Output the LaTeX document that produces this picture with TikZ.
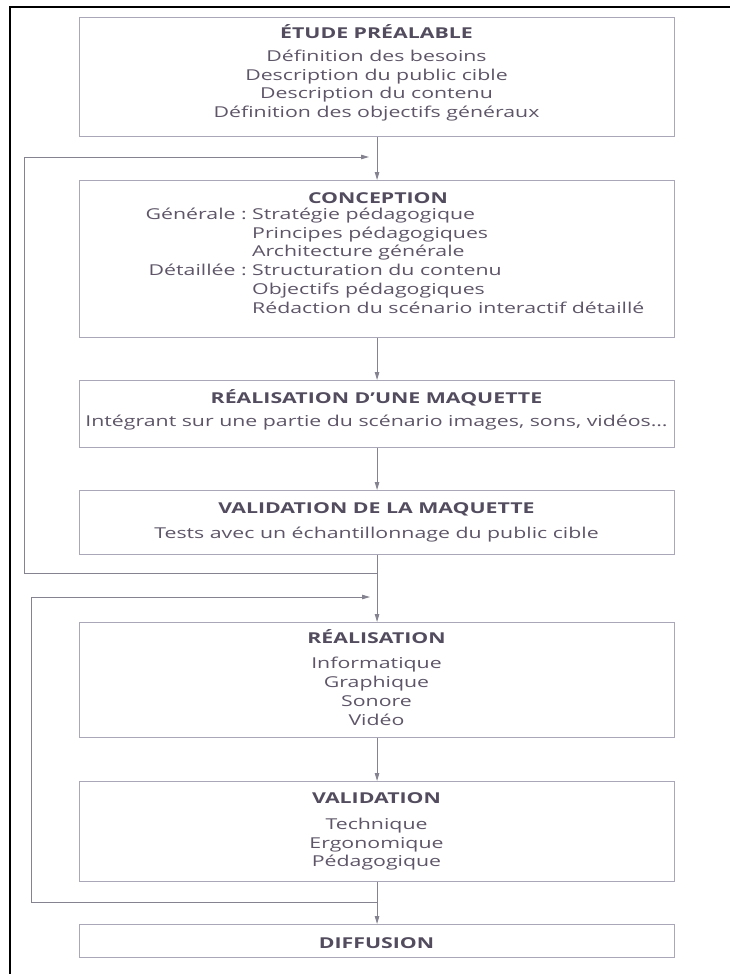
\documentclass[tikz,border=0pt]{standalone}
\usepackage{fontspec}
\setmainfont{Open Sans}[FakeStretch=1.42]
\usetikzlibrary{arrows.meta}
\definecolor{txt}{HTML}{5E5668}
\definecolor{ttl}{HTML}{524C5E}
\definecolor{boxc}{HTML}{A9A7B8}
\definecolor{linec}{HTML}{85838F}
\begin{document}
\begin{tikzpicture}[x=1pt,y=-1pt,
  stage/.style={draw=boxc, line width=1.1pt, minimum width=595pt, inner sep=0pt, anchor=north west},
  ttltext/.style={anchor=base, inner sep=0pt, text=ttl, font=\fontsize{15}{19}\selectfont\bfseries},
  bodytext/.style={anchor=base, inner sep=0pt, text=txt, font=\fontsize{15}{19}\selectfont},
  lefttext/.style={bodytext, anchor=base west},
  labeltext/.style={bodytext, anchor=base east},
  conn/.style={draw=linec, line width=0.9pt},
  arr/.style={conn, -{Triangle[length=8pt,width=4.5pt]}}
]
\useasboundingbox (0,0) rectangle (729,974);
% outer frame (top and left edges)
\draw[black, line width=2.6pt, line join=miter] (10,980) -- (10,7) -- (740,7);

% boxes
\node[stage, minimum height=119pt] (b1) at (79,17) {};
\node[stage, minimum height=157pt] (b2) at (79,180) {};
\node[stage, minimum height=67pt] (b3) at (79,380) {};
\node[stage, minimum height=64pt] (b4) at (79,490) {};
\node[stage, minimum height=115pt] (b5) at (79,622) {};
\node[stage, minimum height=100pt] (b6) at (79,781) {};
\node[stage, minimum height=33pt] (b7) at (79,924) {};

% texts box 1
\node[ttltext] (t1) at (376.5,38) {ÉTUDE PRÉALABLE};
\node[bodytext] (t1a) at (376.5,62) {Définition des besoins};
\node[bodytext] (t1b) at (376.5,81) {Description du public cible};
\node[bodytext] (t1c) at (376.5,99) {Description du contenu};
\node[bodytext] (t1d) at (376.5,117) {Définition des objectifs généraux};

% texts box 2
\node[ttltext] (t2) at (378,203) {CONCEPTION};
\node[labeltext] (g0) at (247,219) {Générale :};
\node[lefttext] (g1) at (252,219) {Stratégie pédagogique};
\node[lefttext] (g2) at (252,238) {Principes pédagogiques};
\node[lefttext] (g3) at (252,256) {Architecture générale};
\node[labeltext] (d0) at (247,275) {Détaillée :};
\node[lefttext] (d1) at (252,275) {Structuration du contenu};
\node[lefttext] (d2) at (252,294) {Objectifs pédagogiques};
\node[lefttext] (d3) at (252,313) {Rédaction du scénario interactif détaillé};

% texts box 3
\node[ttltext] (t3) at (376.5,403) {RÉALISATION D’UNE MAQUETTE};
\node[bodytext] (t3a) at (376.5,426) {Intégrant sur une partie du scénario images, sons, vidéos…};

% texts box 4
\node[ttltext] (t4) at (376.5,513) {VALIDATION DE LA MAQUETTE};
\node[bodytext] (t4a) at (376.5,538) {Tests avec un échantillonnage du public cible};

% texts box 5
\node[ttltext] (t5) at (376.5,643) {RÉALISATION};
\node[bodytext] (t5a) at (376.5,668) {Informatique};
\node[bodytext] (t5b) at (376.5,687) {Graphique};
\node[bodytext] (t5c) at (376.5,706) {Sonore};
\node[bodytext] (t5d) at (376.5,725) {Vidéo};

% texts box 6
\node[ttltext] (t6) at (376.5,803) {VALIDATION};
\node[bodytext] (t6a) at (376.5,829) {Technique};
\node[bodytext] (t6b) at (376.5,848) {Ergonomique};
\node[bodytext] (t6c) at (376.5,866) {Pédagogique};

% box 7
\node[ttltext] (t7) at (376.5,948) {DIFFUSION};

% main flow
\draw[arr] (b1.south) -- (b2.north);
\draw[arr] (b2.south) -- (b3.north);
\draw[arr] (b3.south) -- (b4.north);
\draw[arr] (b4.south) -- (b5.north);
\draw[arr] (b5.south) -- (b6.north);
\draw[arr] (b6.south) -- (b7.north);

% feedback loops
\coordinate (j1) at (376.5,573);
\coordinate (k1) at (24,157);
\coordinate (e1) at (369,157);
\draw[arr] (j1) -| (k1) -- (e1);

\coordinate (j2) at (376.5,902);
\coordinate (k2) at (31,597);
\coordinate (e2) at (370,597);
\draw[arr] (j2) -| (k2) -- (e2);
\end{tikzpicture}
\end{document}
